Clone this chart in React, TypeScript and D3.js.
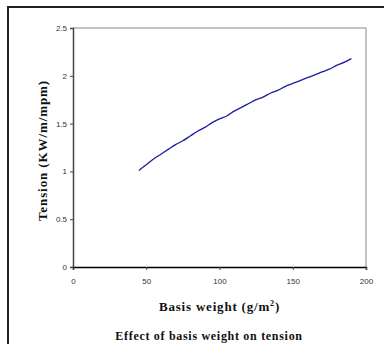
import React, { useEffect, useRef } from 'react';
import * as d3 from 'd3';

const basisWeight = [45, 50, 55, 60, 65, 70, 75, 80, 85, 90, 95, 100, 105, 110, 115, 120, 125, 130, 135, 140, 145, 150, 155, 160, 165, 170, 175, 180, 185, 190];
const tension = [1.01, 1.07, 1.13, 1.18, 1.23, 1.28, 1.32, 1.37, 1.42, 1.46, 1.51, 1.55, 1.58, 1.63, 1.67, 1.71, 1.75, 1.78, 1.82, 1.85, 1.89, 1.92, 1.95, 1.98, 2.01, 2.04, 2.07, 2.11, 2.14, 2.18];
const xTicks = [0, 50, 100, 150, 200];
const yTicks = [0, 0.5, 1, 1.5, 2, 2.5];

const W = 384;
const H = 344;

export default function App() {
  const svgRef = useRef<SVGSVGElement>(null);

  useEffect(() => {
    if (!svgRef.current) return;
    const svg = d3.select(svgRef.current);
    svg.selectAll('*').remove();

    const plot = { left: 73, top: 28, right: 366, bottom: 267 };

    // outer frame (only left and top edges fall inside the picture)
    svg.append('path')
      .attr('d', `M8,${H}V7H${W}`)
      .attr('fill', 'none')
      .attr('stroke', '#222')
      .attr('stroke-width', 2);

    const x = d3.scaleLinear().domain([0, 200]).range([plot.left, plot.right]);
    const y = d3.scaleLinear().domain([0, 2.5]).range([plot.bottom, plot.top]);

    // top/right border
    svg.append('path')
      .attr('d', `M${plot.left},${plot.top}H${plot.right}V${plot.bottom}`)
      .attr('fill', 'none')
      .attr('stroke', '#888')
      .attr('stroke-width', 1);

    const tickFont = '"Liberation Sans", Arial, sans-serif';

    // y axis
    svg.append('g')
      .attr('transform', `translate(${plot.left},0)`)
      .call(d3.axisLeft(y).tickValues(yTicks).tickSize(3).tickPadding(3).tickFormat(d => String(d)))
      .call(g => g.select('.domain').attr('stroke', '#444').attr('stroke-width', 1.5))
      .call(g => g.selectAll('.tick line').attr('stroke', '#444'))
      .call(g => g.selectAll('.tick text').attr('fill', '#333').attr('font-size', '8px').attr('font-family', tickFont));

    // x axis
    svg.append('g')
      .attr('transform', `translate(0,${plot.bottom})`)
      .call(d3.axisBottom(x).tickValues(xTicks).tickSize(3).tickPadding(8).tickFormat(d => String(d)))
      .call(g => g.select('.domain').attr('stroke', '#000').attr('stroke-width', 1.5))
      .call(g => g.selectAll('.tick line').attr('stroke', '#444'))
      .call(g => g.selectAll('.tick text').attr('fill', '#333').attr('font-size', '8px').attr('font-family', tickFont));

    // series
    const pts = basisWeight.map((b, i) => [b, tension[i]] as [number, number]);
    svg.append('path')
      .datum(pts)
      .attr('fill', 'none')
      .attr('stroke', '#1c1ca0')
      .attr('stroke-width', 1.3)
      .attr('d', d3.line<[number, number]>().x(d => x(d[0])).y(d => y(d[1])).curve(d3.curveMonotoneX));

    const titleFont = '"Liberation Serif", "Times New Roman", serif';

    // x title
    const xt = svg.append('text')
      .attr('x', (plot.left + plot.right) / 2)
      .attr('y', 311)
      .attr('text-anchor', 'middle')
      .attr('font-family', titleFont)
      .attr('font-weight', 'bold')
      .attr('font-size', '13px')
      .attr('letter-spacing', '0.8px')
      .attr('fill', '#111');
    xt.append('tspan').text('Basis weight (g/m');
    xt.append('tspan').attr('dy', -5).attr('font-size', '8px').text('2');
    xt.append('tspan').attr('dy', 5).text(')');

    // y title
    svg.append('text')
      .attr('transform', `translate(47,${(plot.top + plot.bottom) / 2 + 3}) rotate(-90)`)
      .attr('text-anchor', 'middle')
      .attr('font-family', titleFont)
      .attr('font-weight', 'bold')
      .attr('font-size', '13px')
      .attr('letter-spacing', '0.9px')
      .attr('fill', '#111')
      .text('Tension (KW/m/mpm)');

    // caption
    svg.append('text')
      .attr('x', 209)
      .attr('y', 340)
      .attr('text-anchor', 'middle')
      .attr('font-family', titleFont)
      .attr('font-weight', 'bold')
      .attr('font-size', '12px')
      .attr('letter-spacing', '0.7px')
      .attr('fill', '#111')
      .text('Effect of basis weight on tension');
  }, []);

  return (
    <div style={{ position: 'absolute', left: 0, top: 0, width: W, height: H, background: '#fff', overflow: 'hidden' }}>
      <svg ref={svgRef} width={W} height={H} style={{ display: 'block', overflow: 'hidden' }} />
    </div>
  );
}
